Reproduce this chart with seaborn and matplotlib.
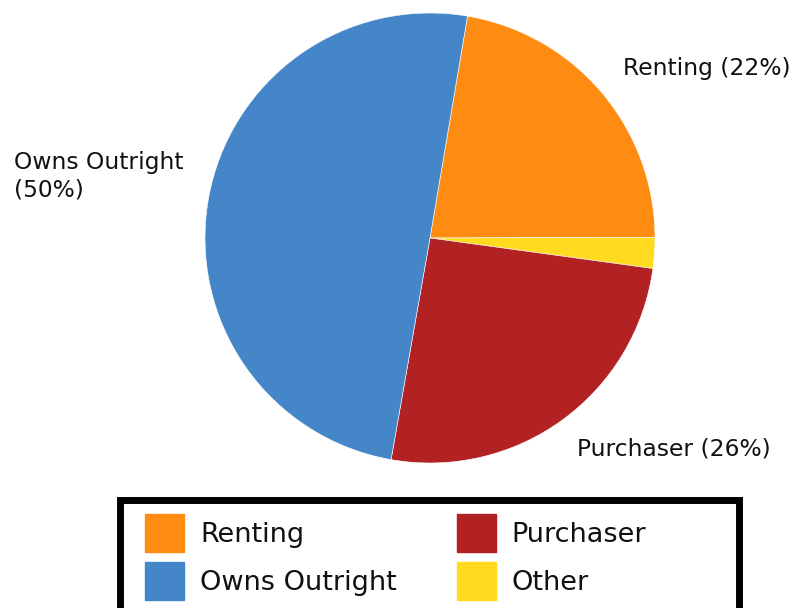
import matplotlib
matplotlib.use("Agg")
import matplotlib.pyplot as plt
import matplotlib.patches as mpatches
import seaborn as sns

# shares (labels show the rounded values)
categories = ['Renting', 'Other', 'Purchaser', 'Owns Outright']
shares = [22.3, 2.2, 25.6, 49.9]
slice_labels = ['Renting (22%)', '', 'Purchaser (26%)', 'Owns Outright\n(50%)']
colors = ['#FF8C12', '#FFDA1F', '#B22222', '#4486C8']
legend_order = ['Renting', 'Owns Outright', 'Purchaser', 'Other']

sns.set_theme(style="white")
plt.rcParams['font.family'] = ['DejaVu Sans']

W, H = 794, 608
fig = plt.figure(figsize=(W / 100, H / 100), dpi=100)
ax = fig.add_axes([0, 0, 1, 1])

ax.pie(shares, colors=colors, startangle=80.4, counterclock=False,
       center=(430, H - 238), radius=225,
       wedgeprops=dict(edgecolor='white', linewidth=0.4))
ax.set_xlim(0, W)
ax.set_ylim(0, H)
ax.set_aspect('equal')
ax.axis('off')

# slice labels
lab_pos = {'Renting': (623, 69), 'Purchaser': (577, 449), 'Owns Outright': (14, 176)}
for cat, lab in zip(categories, slice_labels):
    if lab:
        x, y = lab_pos[cat]
        ax.text(x, H - y, lab, fontsize=16.8, ha='left', va='center',
                color='#111111', linespacing=1.25)

# legend
col = dict(zip(categories, colors))
handles = [mpatches.Patch(facecolor=col[c], edgecolor=col[c]) for c in legend_order]
leg = fig.legend(handles, legend_order, ncol=2, loc='upper left',
                 bbox_to_anchor=(145 / W, 1 - 514 / H), borderaxespad=0,
                 prop={'family': 'DejaVu Sans', 'size': 19.5},
                 frameon=False, handlelength=1.44, handleheight=1.8,
                 handletextpad=0.6, columnspacing=2.2, labelspacing=0.35,
                 borderpad=0)
for t in leg.get_texts():
    t.set_color('#111111')

# thick black box round the legend, running off the bottom edge
fig.add_artist(mpatches.Rectangle((120 / W, -0.1), (739 - 120) / W, (H - 500.5) / H + 0.1,
                                  transform=fig.transFigure, fill=False,
                                  edgecolor='black', linewidth=5))

fig.savefig('out.png', dpi=100)
